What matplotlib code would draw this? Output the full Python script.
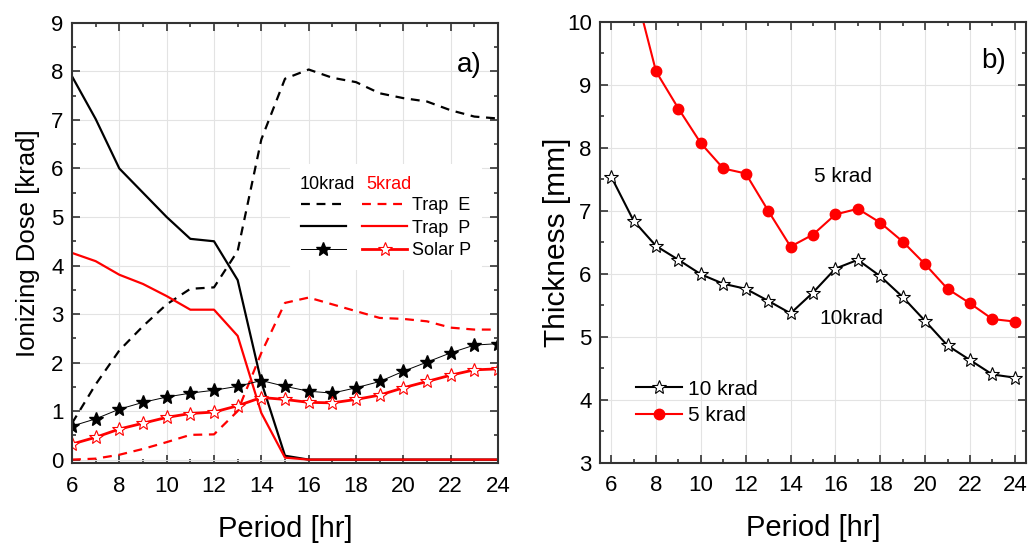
import matplotlib
matplotlib.use("Agg")
import matplotlib.pyplot as plt
from matplotlib.lines import Line2D
from matplotlib.legend_handler import HandlerTuple
from matplotlib.ticker import MultipleLocator

plt.rcParams['font.family'] = ['Liberation Sans', 'DejaVu Sans']

period = [6, 7, 8, 9, 10, 11, 12, 13, 14, 15, 16, 17, 18, 19, 20, 21, 22, 23, 24]

# panel a) Ionizing dose [krad]
trapE_10 = [0.75, 1.55, 2.25, 2.75, 3.2, 3.52, 3.55, 4.3, 6.6, 7.85, 8.04, 7.87, 7.78, 7.55, 7.45, 7.38, 7.2, 7.07, 7.03]
trapP_10 = [7.9, 7.02, 6.0, 5.5, 5.0, 4.55, 4.5, 3.7, 1.6, 0.08, 0.0, 0.0, 0.0, 0.0, 0.0, 0.0, 0.0, 0.0, 0.0]
solarP_10 = [0.69, 0.84, 1.04, 1.18, 1.29, 1.37, 1.43, 1.51, 1.63, 1.51, 1.41, 1.37, 1.48, 1.61, 1.82, 2.01, 2.2, 2.36, 2.39]
trapE_5 = [0.0, 0.02, 0.1, 0.22, 0.36, 0.51, 0.52, 1.0, 2.2, 3.23, 3.34, 3.2, 3.06, 2.92, 2.9, 2.85, 2.72, 2.68, 2.68]
trapP_5 = [4.26, 4.09, 3.81, 3.62, 3.37, 3.09, 3.09, 2.55, 0.96, 0.04, 0.0, 0.0, 0.0, 0.0, 0.0, 0.0, 0.0, 0.0, 0.0]
solarP_5 = [0.32, 0.46, 0.63, 0.75, 0.87, 0.95, 0.98, 1.11, 1.28, 1.24, 1.18, 1.17, 1.24, 1.33, 1.48, 1.61, 1.74, 1.85, 1.87]

# panel b) Thickness [mm]
thick_10 = [7.54, 6.84, 6.44, 6.22, 5.99, 5.84, 5.76, 5.57, 5.37, 5.70, 6.08, 6.22, 5.96, 5.63, 5.25, 4.86, 4.63, 4.40, 4.35]
thick_5 = [12.2, 10.6, 9.21, 8.62, 8.07, 7.67, 7.59, 7.0, 6.43, 6.62, 6.94, 7.03, 6.81, 6.51, 6.15, 5.76, 5.53, 5.28, 5.24]

RED = '#ff0000'
SPINE = '#333333'

fig = plt.figure(figsize=(10.3, 5.46), dpi=100)
axa = fig.add_axes([0.0699, 0.152, 0.4136, 0.806])
axb = fig.add_axes([0.5825, 0.1526, 0.4136, 0.8077])


def style(ax):
    for s in ax.spines.values():
        s.set_linewidth(1.5)
        s.set_color(SPINE)
    ax.tick_params(which='both', direction='in', top=True, right=True, color=SPINE, width=1.2)
    ax.tick_params(which='major', length=6, labelsize=16)
    ax.tick_params(axis='x', which='major', pad=9)
    ax.tick_params(axis='y', which='major', pad=6)
    ax.tick_params(which='minor', length=3)
    ax.grid(True, which='major', color='#e3e3e3', linewidth=0.8)
    ax.set_axisbelow(True)


# ---- panel a
style(axa)
axa.plot(period, trapE_10, color='black', lw=1.6, ls=(0, (4, 3)))
axa.plot(period, trapE_5, color=RED, lw=1.6, ls=(0, (4, 3)))
axa.plot(period, trapP_10, color='black', lw=1.6)
axa.plot(period, trapP_5, color=RED, lw=1.6)
axa.plot(period, solarP_10, color='black', lw=0.7, marker='*', ms=10, mfc='black', mec='black')
axa.plot(period, solarP_5, color=RED, lw=2.0, marker='*', ms=10, mfc='white', mec=RED, mew=0.8)
axa.set_xlim(6, 24)
axa.set_ylim(-0.07, 9)
axa.xaxis.set_major_locator(MultipleLocator(2))
axa.xaxis.set_minor_locator(MultipleLocator(1))
axa.yaxis.set_major_locator(MultipleLocator(1))
axa.yaxis.set_minor_locator(MultipleLocator(0.5))
axa.set_xlabel('Period [hr]', fontsize=21, labelpad=13)
axa.set_ylabel('Ionizing Dose [krad]', fontsize=18.5, labelpad=8)
axa.text(22.8, 8.14, 'a)', fontsize=20, ha='center', va='center')

h_E = (Line2D([], [], color='black', lw=1.6, ls=(0, (4, 3))), Line2D([], [], color=RED, lw=1.6, ls=(0, (4, 3))))
h_P = (Line2D([], [], color='black', lw=1.6), Line2D([], [], color=RED, lw=1.6))
h_S = (Line2D([], [], color='black', lw=0.7, marker='*', ms=10, mfc='black', mec='black'),
       Line2D([], [], color=RED, lw=2.0, marker='*', ms=10, mfc='white', mec=RED, mew=0.8))
leg = axa.legend([h_E, h_P, h_S], ['Trap  E', 'Trap  P', 'Solar P'],
                 handler_map={tuple: HandlerTuple(ndivide=None, pad=0.9)},
                 loc='upper left', bbox_to_anchor=(0.49, 0.70), fontsize=13,
                 title=' ', title_fontsize=13,
                 handlelength=5.9, handletextpad=0.25, labelspacing=0.3,
                 frameon=True, borderpad=0.6)
leg.get_frame().set_edgecolor('none')
leg.get_frame().set_facecolor('white')
leg.get_frame().set_alpha(1)
leg.set_zorder(5)
axa.text(0.535, 0.632, '10krad', transform=axa.transAxes, fontsize=13, color='black', va='center', zorder=10)
axa.text(0.69, 0.632, '5krad', transform=axa.transAxes, fontsize=13, color=RED, va='center', zorder=10)

# ---- panel b
style(axb)
axb.plot(period, thick_10, color='black', lw=1.5, marker='*', ms=10, mfc='white', mec='black', mew=0.8, label='10 krad')
axb.plot(period, thick_5, color=RED, lw=1.5, marker='o', ms=7.5, mfc=RED, mec=RED, label='5 krad')
axb.set_xlim(5.5, 24.5)
axb.set_ylim(3, 10)
axb.xaxis.set_major_locator(MultipleLocator(2))
axb.xaxis.set_minor_locator(MultipleLocator(1))
axb.yaxis.set_major_locator(MultipleLocator(1))
axb.yaxis.set_minor_locator(MultipleLocator(0.5))
axb.set_xlabel('Period [hr]', fontsize=21, labelpad=13)
axb.set_ylabel('Thickness [mm]', fontsize=21.5, labelpad=-3)
axb.text(23.04, 9.37, 'b)', fontsize=20, ha='center', va='center')
axb.text(16.35, 7.54, '5 krad', fontsize=15, ha='center', va='center')
axb.text(16.7, 5.29, '10krad', fontsize=15, ha='center', va='center')
lb = axb.legend(loc='lower left', bbox_to_anchor=(0.04, 0.043), fontsize=15, frameon=False,
                handlelength=2.2, handletextpad=0.3, labelspacing=0.35)

fig.savefig('out.png', dpi=100)
